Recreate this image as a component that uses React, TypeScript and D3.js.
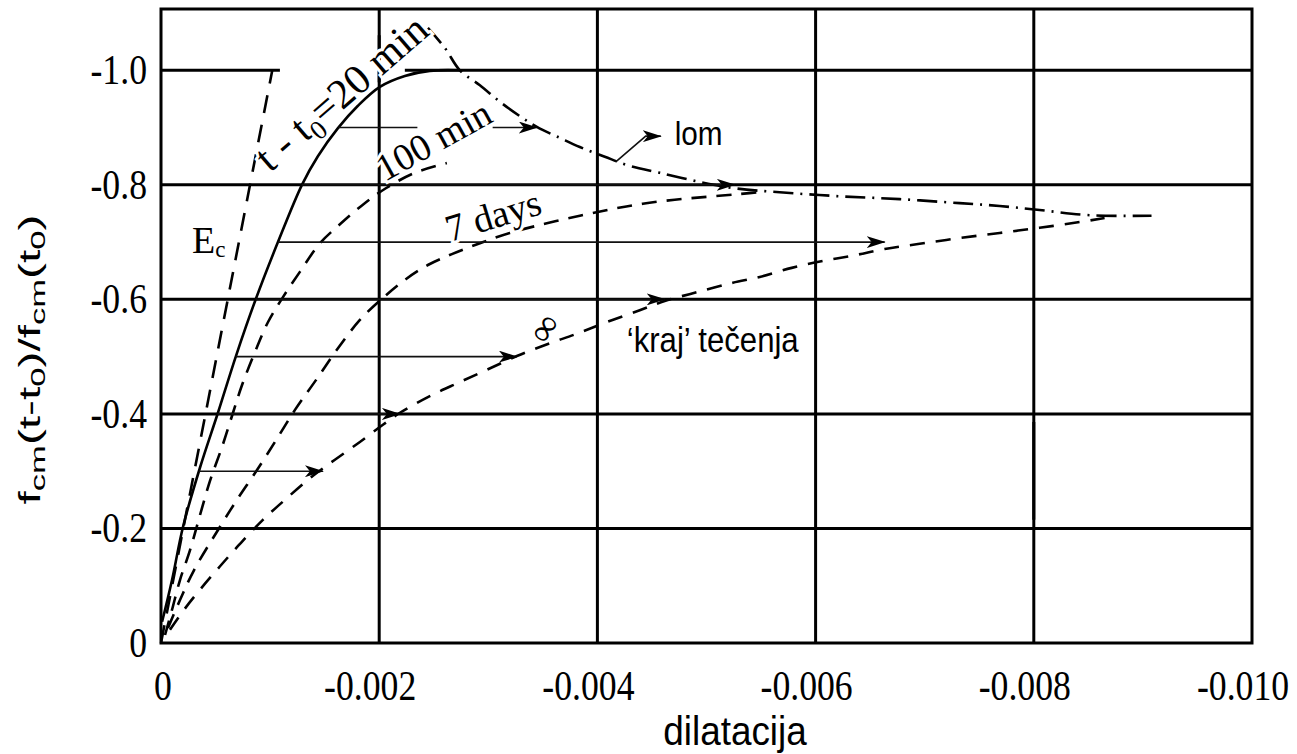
import * as d3 from "d3";

const W = 1297;
const H = 754;

const xTicks = [0, -0.002, -0.004, -0.006, -0.008, -0.01];
const xTickLabels = ["0", "-0.002", "-0.004", "-0.006", "-0.008", "-0.010"];
const yTicks = [0, -0.2, -0.4, -0.6, -0.8, -1.0];
const yTickLabels = ["0", "-0.2", "-0.4", "-0.6", "-0.8", "-1.0"];

// [dilatacija, fcm(t-t0)/fcm(t0)]
const ecLine: [number, number][] = [
  [0, 0],
  [-0.00102, -1.0],
];

const curve20min: [number, number][] = [
  [-0.00001, -0.037], [-0.000101, -0.11], [-0.000202, -0.203], [-0.000357, -0.306],
  [-0.000522, -0.402], [-0.000687, -0.501], [-0.00087, -0.601], [-0.001072, -0.7],
  [-0.001292, -0.8], [-0.001438, -0.85], [-0.001622, -0.899], [-0.001805, -0.938],
  [-0.002006, -0.971], [-0.002235, -0.99], [-0.002464, -0.999], [-0.002739, -1.0],
];

const curve100min: [number, number][] = [
  [-0.000037, -0.014], [-0.000101, -0.058], [-0.000174, -0.11], [-0.000266, -0.162],
  [-0.000357, -0.223], [-0.000449, -0.283], [-0.000559, -0.342], [-0.00066, -0.402],
  [-0.000742, -0.45], [-0.000861, -0.508], [-0.00098, -0.56], [-0.001118, -0.604],
  [-0.001273, -0.648], [-0.001457, -0.698], [-0.00164, -0.731], [-0.001842, -0.764],
  [-0.002061, -0.794], [-0.002327, -0.821], [-0.00262, -0.838],
];

const curve7days: [number, number][] = [
  [-0.000064, -0.026], [-0.000174, -0.075], [-0.000302, -0.127], [-0.000541, -0.203],
  [-0.000696, -0.25], [-0.00088, -0.302], [-0.001054, -0.354], [-0.001228, -0.407],
  [-0.00142, -0.459], [-0.001612, -0.512], [-0.001823, -0.564], [-0.002025, -0.601],
  [-0.002235, -0.634], [-0.002446, -0.66], [-0.002666, -0.679], [-0.002923, -0.698],
  [-0.003197, -0.716], [-0.003518, -0.732], [-0.003839, -0.746], [-0.004141, -0.758],
  [-0.004416, -0.767], [-0.004709, -0.774], [-0.005002, -0.779], [-0.005305, -0.784],
  [-0.005534, -0.788],
];

const curveInf: [number, number][] = [
  [-0.000082, -0.023], [-0.000211, -0.058], [-0.000357, -0.093], [-0.000541, -0.134],
  [-0.000733, -0.175], [-0.000934, -0.215], [-0.001136, -0.25], [-0.001393, -0.292],
  [-0.001594, -0.32], [-0.001823, -0.351], [-0.002034, -0.381], [-0.00219, -0.402],
  [-0.002464, -0.431], [-0.002721, -0.454], [-0.002987, -0.477], [-0.003262, -0.501],
  [-0.003546, -0.522], [-0.003811, -0.54], [-0.004095, -0.561], [-0.004388, -0.581],
  [-0.004617, -0.597], [-0.00492, -0.613], [-0.005241, -0.629], [-0.005488, -0.639],
  [-0.005781, -0.655], [-0.006065, -0.667], [-0.006358, -0.677], [-0.006633, -0.688],
  [-0.006954, -0.697], [-0.00732, -0.707], [-0.007687, -0.716], [-0.008053, -0.725],
  [-0.00842, -0.735], [-0.008649, -0.742],
];

const curveLom: [number, number][] = [
  [-0.002446, -1.074], [-0.002602, -1.039], [-0.002739, -1.0], [-0.002923, -0.974],
  [-0.003106, -0.945], [-0.003289, -0.92], [-0.003445, -0.901], [-0.003656, -0.882],
  [-0.003839, -0.866], [-0.004068, -0.849], [-0.004297, -0.833], [-0.004572, -0.821],
  [-0.004938, -0.805], [-0.005259, -0.794], [-0.005671, -0.787], [-0.006221, -0.78],
  [-0.006771, -0.775], [-0.00732, -0.768], [-0.007687, -0.763], [-0.008053, -0.756],
  [-0.008511, -0.747], [-0.009079, -0.746],
];

// creep arrows: start on the 20 min curve, end on the long-term curves
const arrowLevels = [-0.3, -0.4, -0.5, -0.6, -0.7, -0.8, -0.9];
const arrowEnds = [-0.001484, -0.00219, -0.003262, -0.004617, -0.006633, -0.005259, -0.003445];
const arrowGaps: ([number, number] | null)[] = [null, null, null, null, null, null, [-0.00235, -0.00304]];

const lomPointer: [number, number][] = [
  [-0.004168, -0.84],
  [-0.004443, -0.885],
  [-0.004581, -0.885],
];

// grid lines interrupted by the labels
const hGridGaps: Record<string, [number, number]> = { "-1": [-0.00109, -0.002235] };
const vGridGaps: Record<string, [number, number]> = {
  "-0.002": [-1.061, -0.979],
  "-0.008": [-0.386, -0.215],
};

const SERIF = "'Liberation Serif', 'Times New Roman', serif";
const SANS = "'Liberation Sans', Arial, sans-serif";

function strainAt(curve: [number, number][], level: number) {
  for (let i = 0; i < curve.length - 1; i++) {
    const a = curve[i];
    const b = curve[i + 1];
    if ((a[1] - level) * (b[1] - level) <= 0 && a[1] !== b[1]) {
      const t = (level - a[1]) / (b[1] - a[1]);
      return a[0] + t * (b[0] - a[0]);
    }
  }
  return curve[0][0];
}

export default function App() {
  const x = d3.scaleLinear().domain([0, -0.01]).range([161, 1252]);
  const y = d3.scaleLinear().domain([0, -1.107]).range([643, 9]);

  const smooth = d3
    .line<[number, number]>()
    .x((d) => x(d[0]))
    .y((d) => y(d[1]))
    .curve(d3.curveCatmullRom.alpha(0.5));
  const straight = d3
    .line<[number, number]>()
    .x((d) => x(d[0]))
    .y((d) => y(d[1]));

  const halo = { stroke: "white", strokeWidth: 6, paintOrder: "stroke" as const };

  const hLines = yTicks.filter((v) => v !== 0).map((v) => {
    const gap = hGridGaps[String(v)];
    const segs: [number, number][] = gap ? [[0, gap[0]], [gap[1], -0.01]] : [[0, -0.01]];
    return segs.map((s, i) => (
      <line key={`h${v}-${i}`} x1={x(s[0])} x2={x(s[1])} y1={y(v)} y2={y(v)} />
    ));
  });

  const vLines = xTicks.filter((v) => v !== 0 && v !== -0.01).map((v) => {
    const gap = vGridGaps[String(v)];
    const segs: [number, number][] = gap ? [[0, gap[0]], [gap[1], -1.107]] : [[0, -1.107]];
    return segs.map((s, i) => (
      <line key={`v${v}-${i}`} x1={x(v)} x2={x(v)} y1={y(s[0])} y2={y(s[1])} />
    ));
  });

  return (
    <div style={{ position: "absolute", left: 0, top: 0 }}>
      <svg width={W} height={H} style={{ display: "block", background: "white" }}>
        <defs>
          <marker
            id="head"
            markerUnits="userSpaceOnUse"
            markerWidth={20}
            markerHeight={12}
            refX={18}
            refY={6}
            orient="auto"
          >
            <path d="M0,0 L19,6 L0,12 L5,6 Z" fill="#000" />
          </marker>
        </defs>

        {/* grid */}
        <g stroke="#000" strokeWidth={3}>
          {hLines}
          {vLines}
        </g>

        {/* curves */}
        <g fill="none" stroke="#000" strokeWidth={2.6}>
          <path d={straight(ecLine) ?? ""} strokeDasharray="18 12" />
          <path d={smooth(curve20min) ?? ""} />
          <path d={smooth(curve100min) ?? ""} strokeDasharray="15 10" />
          <path d={smooth(curve7days) ?? ""} strokeDasharray="15 10" />
          <path d={smooth(curveInf) ?? ""} strokeDasharray="15 11" />
          <path d={smooth(curveLom) ?? ""} strokeDasharray="20 7 2 7" />
        </g>

        {/* creep arrows */}
        <g stroke="#111" strokeWidth={1.6} fill="none">
          {arrowLevels.map((lv, i) => {
            const from = strainAt(curve20min, lv);
            const gap = arrowGaps[i];
            if (gap) {
              return (
                <g key={lv}>
                  <line x1={x(from)} x2={x(gap[0])} y1={y(lv)} y2={y(lv)} />
                  <line x1={x(gap[1])} x2={x(arrowEnds[i])} y1={y(lv)} y2={y(lv)} markerEnd="url(#head)" />
                </g>
              );
            }
            return (
              <line key={lv} x1={x(from)} x2={x(arrowEnds[i])} y1={y(lv)} y2={y(lv)} markerEnd="url(#head)" />
            );
          })}
          <path d={straight(lomPointer) ?? ""} markerEnd="url(#head)" />
        </g>

        {/* frame */}
        <rect x={x(0)} y={y(-1.107)} width={x(-0.01) - x(0)} height={y(0) - y(-1.107)} fill="none" stroke="#000" strokeWidth={3} />

        {/* curve labels */}
        <g fontFamily={SERIF} fill="#000">
          <text x={x(-0.000284)} y={y(-0.681)} fontSize={38}>
            E<tspan fontSize={23} dy={4}>c</tspan>
          </text>
          <text transform={`translate(${x(-0.001)},${y(-0.82)}) rotate(-41)`} fontSize={42} {...halo}>
            t - t<tspan fontSize={27} dy={8}>0</tspan>
            <tspan dy={-8}>=20 min</tspan>
          </text>
          <text transform={`translate(${x(-0.002052)},${y(-0.805)}) rotate(-29)`} fontSize={38} {...halo}>
            100 min
          </text>
          <text transform={`translate(${x(-0.002648)},${y(-0.7)}) rotate(-17)`} fontSize={38} {...halo}>
            7 days
          </text>
          <text
            transform={`translate(${x(-0.003509)},${y(-0.55)}) rotate(-55)`}
            fontSize={38}
            textAnchor="middle"
            dominantBaseline="central"
          >
            ∞
          </text>
        </g>
        <g fontFamily={SANS} fill="#000">
          <text transform={`translate(${x(-0.004709)},${y(-0.87)}) scale(0.9,1)`} fontSize={33}>lom</text>
          <text transform={`translate(${x(-0.004269)},${y(-0.508)}) scale(0.89,1)`} fontSize={35} {...halo}>
            ‘kraj’ tečenja
          </text>
        </g>

        {/* tick labels */}
        <g fontFamily={SERIF} fontSize={42} fill="#000">
          {xTicks.map((v, i) => (
            <text
              key={v}
              transform={`translate(${x(v) + (v === 0 ? 2 : -9)},700) scale(0.85,1)`}
              textAnchor="middle"
            >
              {xTickLabels[i]}
            </text>
          ))}
          {yTicks.map((v, i) => (
            <text key={v} transform={`translate(147,${y(v) + 14}) scale(0.85,1)`} textAnchor="end">
              {yTickLabels[i]}
            </text>
          ))}
        </g>

        {/* axis titles */}
        <text
          transform="translate(735,745) scale(0.9,1)"
          textAnchor="middle"
          fontFamily={SANS}
          fontSize={41}
        >
          dilatacija
        </text>
        <text
          transform={`translate(40,${y(-0.495)}) rotate(-90)`}
          textAnchor="middle"
          fontFamily={SANS}
          fontSize={29}
          textLength={290}
          lengthAdjust="spacingAndGlyphs"
        >
          f<tspan fontSize={21} dy={5}>cm</tspan>
          <tspan dy={-5}>(t-t</tspan>
          <tspan fontSize={21} dy={5}>0</tspan>
          <tspan dy={-5}>)/f</tspan>
          <tspan fontSize={21} dy={5}>cm</tspan>
          <tspan dy={-5}>(t</tspan>
          <tspan fontSize={21} dy={5}>0</tspan>
          <tspan dy={-5}>)</tspan>
        </text>
      </svg>
    </div>
  );
}
